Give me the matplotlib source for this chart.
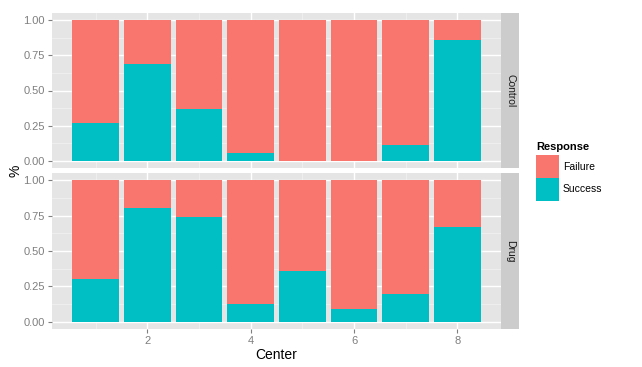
import matplotlib
matplotlib.use("Agg")
from matplotlib import pyplot as plt

plt.rcParams['font.family'] = ['Liberation Sans', 'DejaVu Sans']

# data (share of Success per center)
centers = [1, 2, 3, 4, 5, 6, 7, 8]
control_success = [0.27, 0.69, 0.37, 0.06, 0.0, 0.0, 0.11, 0.86]
drug_success = [0.30, 0.80, 0.737, 0.125, 0.357, 0.091, 0.20, 0.667]
groups = ["Control", "Drug"]
responses = ["Failure", "Success"]
colors = {"Failure": "#F8766D", "Success": "#00BFC4"}

W, H = 642, 367
fig = plt.figure(figsize=(W / 100, H / 100), dpi=100)


def box(x0, y0, x1, y1):
    # pixel box (top-left origin) -> figure fraction
    return [x0 / W, 1 - y1 / H, (x1 - x0) / W, (y1 - y0) / H]


panels = [(13, 168), (173, 329)]
data = [control_success, drug_success]

for i, (top, bottom) in enumerate(panels):
    ax = fig.add_axes(box(52, top, 501, bottom))
    ax.set_facecolor("#E5E5E5")
    succ = data[i]
    fail = [1 - s for s in succ]
    ax.bar(centers, succ, width=0.9, color=colors["Success"], zorder=3)
    ax.bar(centers, fail, width=0.9, bottom=succ, color=colors["Failure"], zorder=3)
    ax.set_xlim(0.155, 8.845)
    ax.set_ylim(-0.05, 1.05)
    ax.set_yticks([0, 0.25, 0.5, 0.75, 1.0])
    ax.set_yticklabels(["0.00", "0.25", "0.50", "0.75", "1.00"])
    ax.set_yticks([0.125, 0.375, 0.625, 0.875], minor=True)
    ax.set_xticks([2, 4, 6, 8])
    ax.set_xticks([1, 3, 5, 7], minor=True)
    ax.grid(which="major", color="white", linewidth=1.0, zorder=1)
    ax.grid(which="minor", color="#F2F2F2", linewidth=0.5, zorder=1)
    ax.set_axisbelow(True)
    for s in ax.spines.values():
        s.set_visible(False)
    ax.tick_params(which="major", color="#7F7F7F", length=3, width=0.8,
                   labelsize=8, labelcolor="#7F7F7F", pad=2)
    ax.tick_params(which="minor", length=0)
    if i == 0:
        ax.tick_params(axis="x", which="major", length=0, labelbottom=False)

    # facet strip
    sax = fig.add_axes(box(501, top, 519, bottom))
    sax.set_facecolor("#CCCCCC")
    sax.set_xticks([])
    sax.set_yticks([])
    for s in sax.spines.values():
        s.set_visible(False)
    sax.text(0.5, 0.5, groups[i], rotation=-90, ha="center", va="center",
             fontsize=7.5, color="#1A1A1A", transform=sax.transAxes)

fig.text(15 / W, 1 - 171 / H, "%", rotation=90, ha="center", va="center", fontsize=10)
fig.text(276 / W, 1 - 355 / H, "Center", ha="center", va="center", fontsize=10)

# legend
fig.text(536 / W, 1 - 147 / H, "Response", ha="left", va="center",
         fontsize=8, fontweight="bold")
for j, r in enumerate(responses):
    y0 = 155 + j * 23
    lax = fig.add_axes(box(536, y0, 559, y0 + 23))
    lax.set_facecolor(colors[r])
    lax.set_xticks([])
    lax.set_yticks([])
    for s in lax.spines.values():
        s.set_visible(False)
    fig.text(563 / W, 1 - (y0 + 11.5) / H, r, ha="left", va="center", fontsize=7.5)

fig.savefig("out.png", dpi=100)
